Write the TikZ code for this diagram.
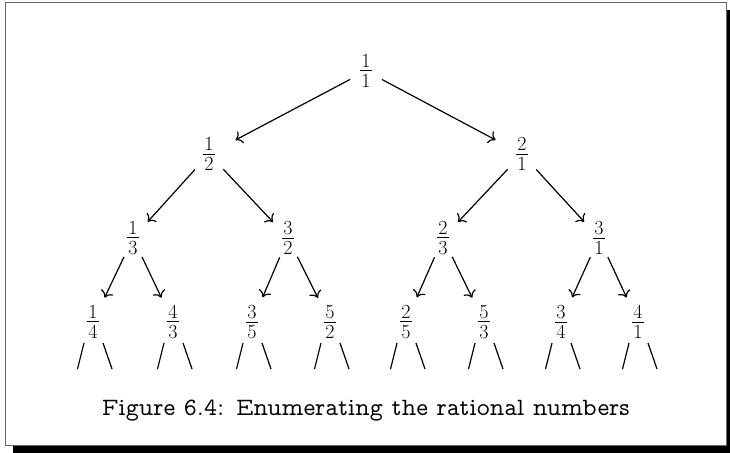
\documentclass[tikz,border=0pt]{standalone}
\usetikzlibrary{arrows.meta}
\newcommand\myfr[2]{$\vcenter{\offinterlineskip\halign{\hfil\kern1.8pt##\kern1.8pt\hfil\cr
  #1\cr\noalign{\kern3pt\hrule height1pt\kern3pt}#2\cr}}$}
\begin{document}
\begin{tikzpicture}[x=1pt,y=-1pt,
  frac/.style={inner sep=0pt,font=\fontsize{20}{24}\selectfont},
  arr/.style={line width=1.2pt,-{Computer Modern Rightarrow[scale=1.5]}},
  leafline/.style={line width=1.2pt},
  capt/.style={inner sep=0pt,anchor=base,font=\usefont{OT1}{cmvtt}{m}{n}\fontsize{23}{26}\selectfont}]
\useasboundingbox (0,0) rectangle (730,452);
\clip (0,0) rectangle (730,452);
% shadow and frame
\fill[black] (13,10) rectangle (734,454);
\filldraw[fill=white,draw=black!60,line width=1.3pt] (5.7,2.7) rectangle (726.5,445.8);
% nodes
\node[frac] (r)  at (366,71)  {\myfr{1}{1}};
\node[frac] (a)  at (209,154) {\myfr{1}{2}};
\node[frac] (b)  at (522,154) {\myfr{2}{1}};
\node[frac] (c1) at (133,238) {\myfr{1}{3}};
\node[frac] (c2) at (288,238) {\myfr{3}{2}};
\node[frac] (c3) at (443,238) {\myfr{2}{3}};
\node[frac] (c4) at (599,238) {\myfr{3}{1}};
\node[frac] (l1) at (93,322)  {\myfr{1}{4}};
\node[frac] (l2) at (173,322) {\myfr{4}{3}};
\node[frac] (l3) at (252,322) {\myfr{3}{5}};
\node[frac] (l4) at (330,322) {\myfr{5}{2}};
\node[frac] (l5) at (406,322) {\myfr{2}{5}};
\node[frac] (l6) at (484,322) {\myfr{5}{3}};
\node[frac] (l7) at (561,322) {\myfr{3}{4}};
\node[frac] (l8) at (638,322) {\myfr{4}{1}};
% arrows
\draw[arr,shorten <=18pt,shorten >=30pt] (r.center) -- (a.center);
\draw[arr,shorten <=18pt,shorten >=30pt] (r.center) -- (b.center);
\foreach \p/\c in {a/c1,a/c2,b/c3,b/c4}
  \draw[arr,shorten <=21pt,shorten >=22pt] (\p.center) -- (\c.center);
\foreach \p/\c in {c1/l1,c1/l2,c2/l3,c2/l4,c3/l5,c3/l6,c4/l7,c4/l8}
  \draw[arr,shorten <=21pt,shorten >=27pt] (\p.center) -- (\c.center);
% open branches below the leaves
\foreach \n in {l1,l2,l3,l4,l5,l6,l7,l8}{
  \draw[leafline] ([shift={(-9,21)}]\n.center) -- ([shift={(-15.5,47)}]\n.center);
  \draw[leafline] ([shift={(10,21)}]\n.center) -- ([shift={(19,47)}]\n.center);
}
% caption
\node[capt] (cap) at (366,415) {Figure 6.4: Enumerating the rational numbers};
\end{tikzpicture}
\end{document}
